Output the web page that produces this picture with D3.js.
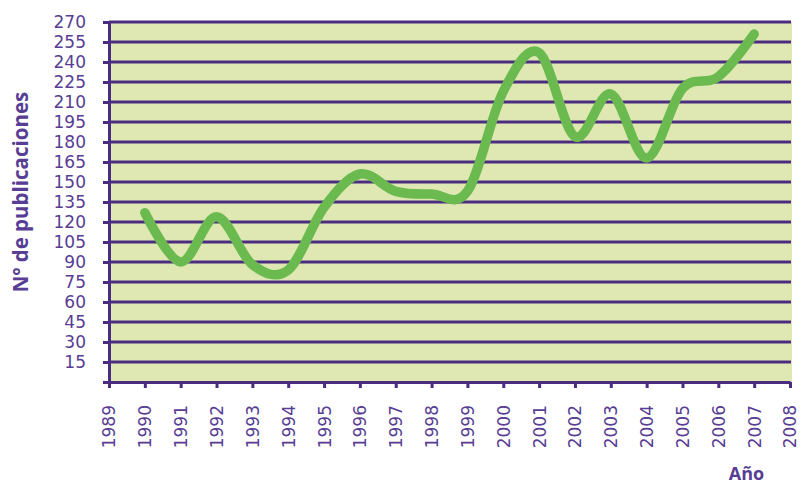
<!DOCTYPE html>
<html>
<head>
<meta charset="utf-8">
<script src="https://cdn.jsdelivr.net/npm/d3@7"></script>
<style>
  html, body { margin: 0; padding: 0; background: #ffffff; }
  svg { display: block; }
</style>
</head>
<body>
<svg id="chart" width="801" height="486"></svg>
<script>
// ---- data ----
const years = [1990, 1991, 1992, 1993, 1994, 1995, 1996, 1997, 1998, 1999,
               2000, 2001, 2002, 2003, 2004, 2005, 2006, 2007];
const publicaciones = [127, 90, 124, 88, 84, 131, 156, 143, 141, 143,
                       218, 247, 184, 216, 168, 220, 229, 261];
const yTicks = [0, 15, 30, 45, 60, 75, 90, 105, 120, 135, 150, 165, 180, 195, 210, 225, 240, 255, 270];
const xTicks = [1989, 1990, 1991, 1992, 1993, 1994, 1995, 1996, 1997, 1998, 1999,
                2000, 2001, 2002, 2003, 2004, 2005, 2006, 2007, 2008];
const yTitle = "Nº de publicaciones";
const xTitle = "Año";

(function () {
// ---- layout ----
const svg = d3.select("#chart");
const mLeft = 109, mRight = 790, mTop = 22, mBottom = 382;
const purple = "#4b2c80";
const textColor = "#573d93";
const tickFont = "'DejaVu Sans', sans-serif";
const titleFont = "'Open Sans', 'Noto Sans', sans-serif";

const x = d3.scaleLinear().domain([1989, 2008]).range([mLeft, mRight]);
const y = d3.scaleLinear().domain([0, 270]).range([mBottom, mTop]);

// background
svg.append("rect")
  .attr("x", mLeft).attr("y", mTop)
  .attr("width", mRight - mLeft + 2).attr("height", mBottom - mTop)
  .attr("fill", "#dfe8b3");

// gridlines
svg.append("g")
  .selectAll("line")
  .data(yTicks.filter(d => d > 0))
  .join("line")
  .attr("x1", mLeft).attr("x2", mRight + 1)
  .attr("y1", d => y(d)).attr("y2", d => y(d))
  .attr("stroke", purple).attr("stroke-width", 3);

// y axis
const yAxis = svg.append("g")
  .attr("transform", `translate(${mLeft},0)`)
  .call(d3.axisLeft(y).tickValues(yTicks).tickSize(6).tickSizeOuter(0)
        .tickPadding(17).tickFormat(d => d === 0 ? "" : d));
yAxis.select(".domain").attr("stroke", purple).attr("stroke-width", 3);
yAxis.selectAll(".tick line").attr("stroke", purple).attr("stroke-width", 3);
yAxis.selectAll(".tick text")
  .attr("fill", textColor)
  .style("font-family", tickFont).style("font-size", "17px");

// x axis
const xAxis = svg.append("g")
  .attr("transform", `translate(0,${mBottom})`)
  .call(d3.axisBottom(x).tickValues(xTicks).tickSize(6).tickSizeOuter(0)
        .tickFormat(d3.format("d")));
xAxis.select(".domain").attr("stroke", purple).attr("stroke-width", 3);
xAxis.selectAll(".tick line").attr("stroke", purple).attr("stroke-width", 3);
xAxis.selectAll(".tick text")
  .attr("fill", textColor)
  .style("font-family", tickFont).style("font-size", "17px")
  .attr("text-anchor", "end")
  .attr("dy", "0.35em")
  .attr("transform", "translate(0,23) rotate(-90)")
  .attr("x", 0).attr("y", 0);

// line
const line = d3.line()
  .x((d, i) => x(years[i]))
  .y(d => y(d))
  .curve(d3.curveCatmullRom.alpha(0));
svg.append("path")
  .datum(publicaciones)
  .attr("d", line)
  .attr("fill", "none")
  .attr("stroke", "#6bba4f")
  .attr("stroke-width", 9.5)
  .attr("stroke-linecap", "round")
  .attr("stroke-linejoin", "round");

// axis titles
svg.append("text")
  .attr("transform", "translate(28,192) rotate(-90)")
  .attr("text-anchor", "middle")
  .attr("fill", textColor)
  .style("font-family", titleFont).style("font-size", "20.5px").style("font-weight", "bold")
  .text(yTitle);

svg.append("text")
  .attr("x", 746.5).attr("y", 480)
  .attr("text-anchor", "middle")
  .attr("fill", textColor)
  .style("font-family", titleFont).style("font-size", "18px").style("font-weight", "bold")
  .text(xTitle);
})();
</script>
</body>
</html>
